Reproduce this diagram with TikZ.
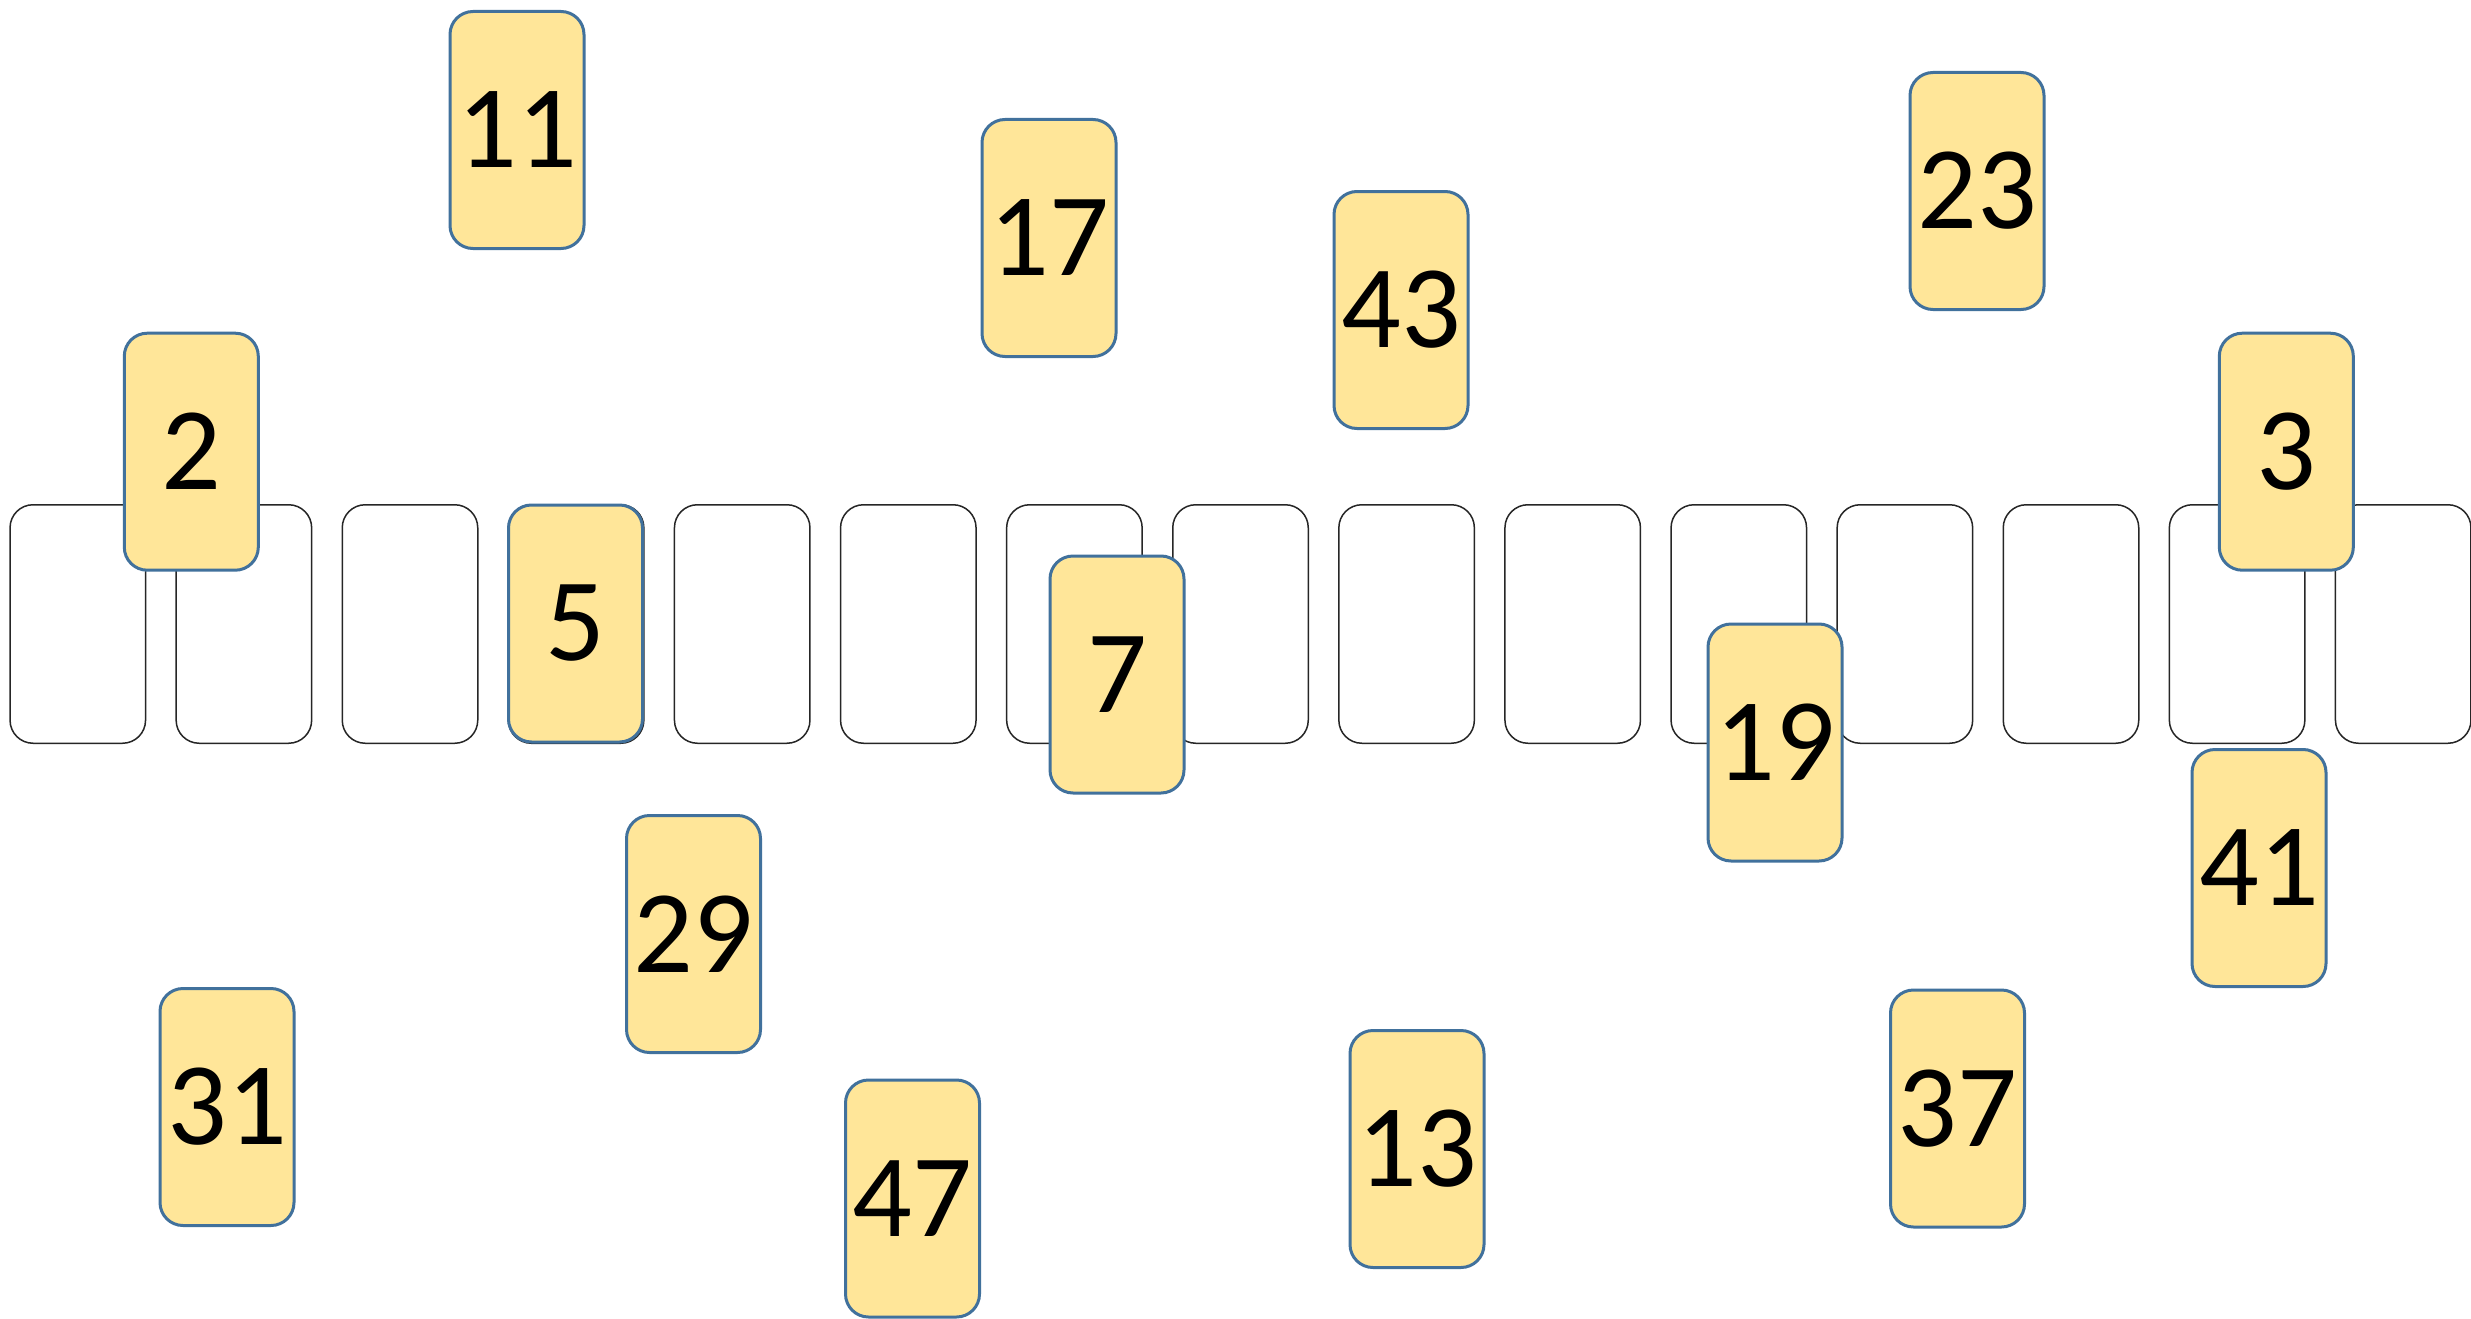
\documentclass[tikz,border=0pt]{standalone}
\usepackage{fontspec}
\setmainfont{Carlito}
\definecolor{cardfill}{HTML}{FFE699}
\definecolor{cardline}{HTML}{41719C}
\begin{document}
\begin{tikzpicture}[x=1pt,y=-1pt,
  slot/.style={draw=black!85,line width=1.5pt,fill=white,rounded corners=23pt,
    minimum width=135.5pt,minimum height=238.5pt,inner sep=0pt},
  card/.style={draw=cardline,line width=3pt,fill=cardfill,rounded corners=23pt,
    minimum width=134pt,minimum height=237pt,inner sep=0pt,
    font=\fontsize{118}{118}\selectfont,text=black}]
\useasboundingbox[fill=white] (0,0) rectangle (2471,1319);
\foreach \i in {0,...,14}{
  \node[slot] (b\i) at ({77.8+166.1*\i},624) {};
}
\node[card] (c11) at (517,130) {11};
\node[card] (c17) at (1049,238) {17};
\node[card] (c43) at (1401,310) {43};
\node[card] (c23) at (1977,191) {23};
\node[card] (c2) at (191.3,451.7) {2};
\node[card] (c3) at (2286.3,451.7) {3};
\node[card] (c5) at (575.5,623.5) {5};
\node[card] (c7) at (1117,674.5) {7};
\node[card] (c19) at (1775,742.5) {19};
\node[card] (c41) at (2259,868) {41};
\node[card] (c29) at (693.5,934) {29};
\node[card] (c31) at (227,1107) {31};
\node[card] (c47) at (912.5,1198.5) {47};
\node[card] (c13) at (1417,1149) {13};
\node[card] (c37) at (1957.5,1108.5) {37};
\end{tikzpicture}
\end{document}
